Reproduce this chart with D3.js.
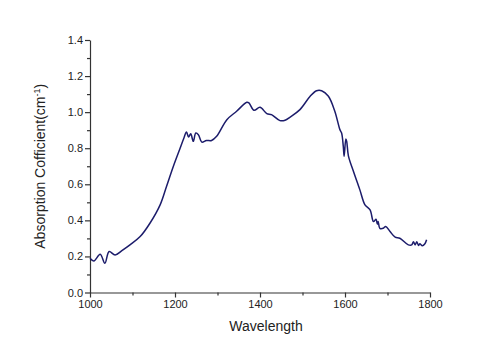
<!DOCTYPE html>
<html>
<head>
<meta charset="utf-8">
<script src="https://cdn.jsdelivr.net/npm/d3@7"></script>
<style>
  body { margin: 0; background: #fff; }
  svg text { font-family: "Liberation Sans", Arial, sans-serif; fill: #222; }
</style>
</head>
<body>
<div id="chart"></div>
<script>
const wavelength = [1000, 1009, 1024, 1035, 1045, 1059, 1075, 1094, 1118, 1141, 1165, 1180, 1196, 1212,
  1221, 1227, 1232, 1237, 1243, 1249, 1255, 1263, 1274, 1286, 1298, 1322, 1345, 1369, 1374, 1386,
  1400, 1416, 1427, 1447, 1459, 1471, 1494, 1518, 1533, 1545, 1561, 1576, 1588, 1592, 1596, 1598,
  1602, 1604, 1608, 1620, 1635, 1647, 1659, 1667, 1673, 1676, 1678, 1682, 1690, 1696, 1706, 1718,
  1729, 1749, 1757, 1761, 1765, 1769, 1773, 1776, 1782, 1788, 1792];
const absorption = [0.19, 0.175, 0.212, 0.162, 0.227, 0.208, 0.232, 0.264, 0.31, 0.384, 0.486, 0.588, 0.699, 0.80,
  0.857, 0.89, 0.862, 0.88, 0.838, 0.884, 0.875, 0.834, 0.843, 0.843, 0.866, 0.958, 1.005, 1.055, 1.051, 1.01,
  1.027, 0.992, 0.986, 0.953, 0.955, 0.973, 1.014, 1.088, 1.119, 1.119, 1.088, 1.005, 0.903, 0.884, 0.81, 0.755,
  0.851, 0.838, 0.758, 0.671, 0.569, 0.486, 0.458, 0.393, 0.406, 0.38, 0.393, 0.356, 0.356, 0.366, 0.338, 0.307,
  0.301, 0.264, 0.264, 0.282, 0.264, 0.282, 0.26, 0.27, 0.259, 0.27, 0.292];
const xTicks = [1000, 1200, 1400, 1600, 1800];
const yTicks = [0.0, 0.2, 0.4, 0.6, 0.8, 1.0, 1.2, 1.4];

const width = 500, height = 351;
const margin = {left: 90, right: 70, top: 40, bottom: 58.5};

const svg = d3.select("#chart").append("svg")
    .attr("width", width)
    .attr("height", height);

const x = d3.scaleLinear().domain([1000, 1800]).range([margin.left, width - margin.right]);
const y = d3.scaleLinear().domain([0, 1.4]).range([height - margin.bottom, margin.top]);

// minor ticks first, then major with labels
const xAxisMinor = d3.axisBottom(x).tickValues(d3.range(1100, 1800, 200)).tickSize(3).tickFormat("");
const yAxisMinor = d3.axisLeft(y).tickValues(d3.range(0.1, 1.4, 0.2)).tickSize(3).tickFormat("");

svg.append("g")
    .attr("transform", `translate(0,${y(0)})`)
    .call(xAxisMinor)
    .call(g => g.select(".domain").remove());
svg.append("g")
    .attr("transform", `translate(${x(1000)},0)`)
    .call(yAxisMinor)
    .call(g => g.select(".domain").remove());

const xAxis = svg.append("g")
    .attr("transform", `translate(0,${y(0)})`)
    .call(d3.axisBottom(x).tickValues(xTicks).tickSize(5).tickSizeOuter(0).tickPadding(3).tickFormat(d3.format("d")));
const yAxis = svg.append("g")
    .attr("transform", `translate(${x(1000)},0)`)
    .call(d3.axisLeft(y).tickValues(yTicks).tickSize(5).tickSizeOuter(0).tickPadding(2).tickFormat(d3.format(".1f")));

svg.selectAll(".tick text").style("font-size", "11px").attr("fill", "#222");
svg.selectAll(".domain, .tick line").attr("stroke", "#333").attr("stroke-width", 1.2);

const line = d3.line()
    .x((d, i) => x(wavelength[i]))
    .y(d => y(d))
    .curve(d3.curveCatmullRom.alpha(0.5));

svg.append("path")
    .datum(absorption)
    .attr("fill", "none")
    .attr("stroke", "#1c1c6b")
    .attr("stroke-width", 1.5)
    .attr("d", line);

svg.append("text")
    .attr("x", x(1400) + 6)
    .attr("y", 331)
    .attr("text-anchor", "middle")
    .style("font-size", "14px")
    .text("Wavelength");

const yTitle = svg.append("text")
    .attr("transform", `translate(45,${y(0.7)}) rotate(-90)`)
    .attr("text-anchor", "middle")
    .style("font-size", "14px");
yTitle.append("tspan").text("Absorption Cofficient(cm");
yTitle.append("tspan").attr("dy", -5).style("font-size", "9px").text("-1");
yTitle.append("tspan").attr("dy", 5).text(")");
</script>
</body>
</html>
